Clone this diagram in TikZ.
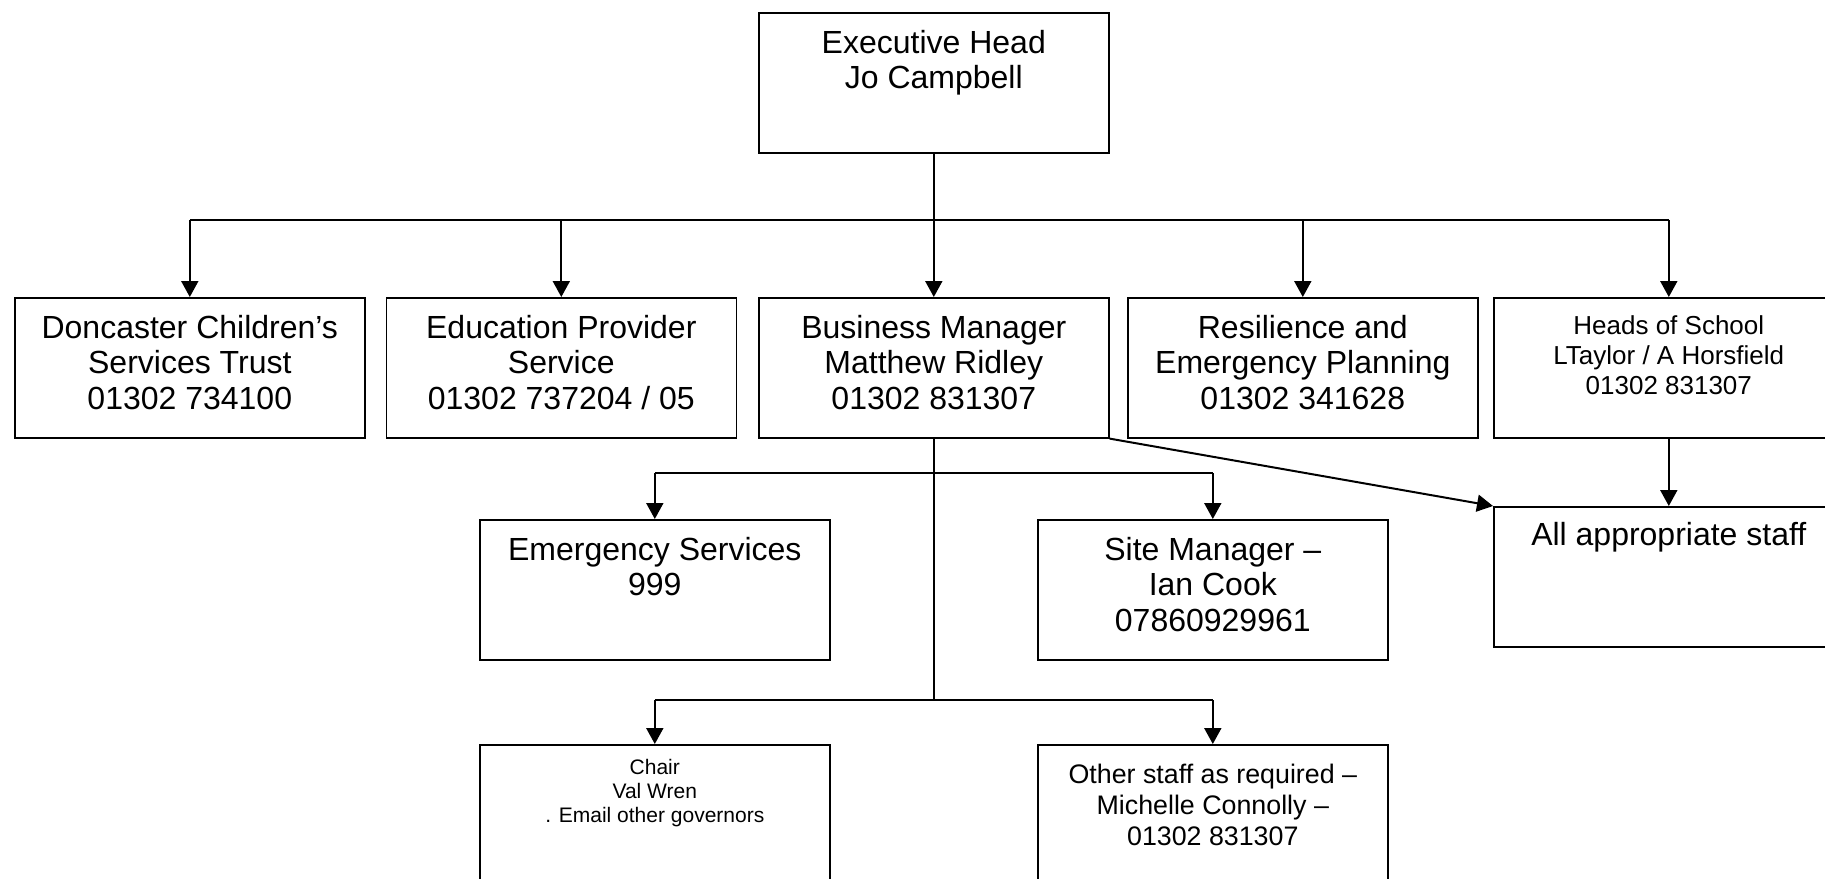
\documentclass[tikz,border=0pt]{standalone}
\usepackage{fontspec}
\setmainfont{Liberation Sans}
\usetikzlibrary{arrows.meta}
\begin{document}
\begin{tikzpicture}[x=0.5pt,y=-0.5pt,
  box/.style={draw, line width=0.8pt, rectangle, minimum width=175pt, minimum height=70pt, inner sep=0pt, anchor=north west},
  bigtxt/.style={anchor=base, align=center, inner sep=0pt, font=\fontsize{16}{17.8}\selectfont},
  midtxt/.style={anchor=base, align=center, inner sep=0pt, font=\fontsize{13}{15}\selectfont},
  othtxt/.style={anchor=base, align=center, inner sep=0pt, font=\fontsize{13.4}{15.6}\selectfont},
  smalltxt/.style={anchor=base, align=center, inner sep=0pt, font=\fontsize{10.5}{12}\selectfont},
  conn/.style={line width=1pt},
  arr/.style={line width=1pt, -{Triangle[width=8.5pt,length=8pt]}}]
\useasboundingbox (0,0) rectangle (1825,878);
\clip (0,0) rectangle (1825,878);
% boxes
\node[box] (exec) at (758,12) {};
\node[box] (b1) at (14,297) {};
\node[box] (b2) at (385.5,297) {};
\node[box] (b3) at (758,297) {};
\node[box] (b4) at (1127,297) {};
\node[box] (b5) at (1493,297) {};
\node[box] (es) at (479,519) {};
\node[box] (sm) at (1037,519) {};
\node[box] (all) at (1493,506) {};
\node[box] (chair) at (479,744) {};
\node[box] (oth) at (1037,744) {};
% texts (anchored at the baseline of the last line)
\node[bigtxt] (t0) at (exec.north |- 0,88.6) {Executive Head\\Jo Campbell};
\node[bigtxt] (t1) at (b1.north |- 0,409.2) {Doncaster Children’s\\Services Trust\\01302 734100};
\node[bigtxt] (t2) at (b2.north |- 0,409.2) {Education Provider\\Service\\01302 737204 / 05};
\node[bigtxt] (t3) at (b3.north |- 0,409.2) {Business Manager\\Matthew Ridley\\01302 831307};
\node[bigtxt] (t4) at (b4.north |- 0,409.2) {Resilience and\\Emergency Planning\\01302 341628};
\node[midtxt] (t5) at (b5.north |- 0,394) {Heads of School\\LTaylor / A Horsfield\\01302 831307};
\node[bigtxt] (t6) at (es.north |- 0,595.6) {Emergency Services\\999};
\node[bigtxt] (t7) at (sm.north |- 0,631.2) {Site Manager –\\Ian Cook\\07860929961};
\node[bigtxt] (t8) at (all.north |- 0,545) {All appropriate staff};
\node[smalltxt] (t9) at (chair.north |- 0,822.5) {Chair\\Val Wren\\. Email other governors};
\node[othtxt] (t10) at (oth.north |- 0,845.4) {Other staff as required –\\Michelle Connolly –\\01302 831307};
% connectors
\coordinate (bus1) at (931,220);
\coordinate (bus2) at (931,473);
\coordinate (bus3) at (931,700);
\draw[conn] (exec.south) -- (exec.south |- bus1);
\draw[conn] (b1.north |- bus1) -- (b5.north |- bus1);
\foreach \b in {b1,b2,b3,b4,b5}{
  \draw[arr] (\b.north |- bus1) -- (\b.north);
}
\draw[conn] (b3.south) -- (b3.south |- bus3);
\draw[conn] (es.north |- bus2) -- (sm.north |- bus2);
\draw[conn] (chair.north |- bus3) -- (oth.north |- bus3);
\foreach \b in {es,sm}{
  \draw[arr] (\b.north |- bus2) -- (\b.north);
}
\foreach \b in {chair,oth}{
  \draw[arr] (\b.north |- bus3) -- (\b.north);
}
\draw[arr] (b3.south east) -- (all.north west);
\draw[arr] (b5.south) -- (all.north);
\end{tikzpicture}
\end{document}
